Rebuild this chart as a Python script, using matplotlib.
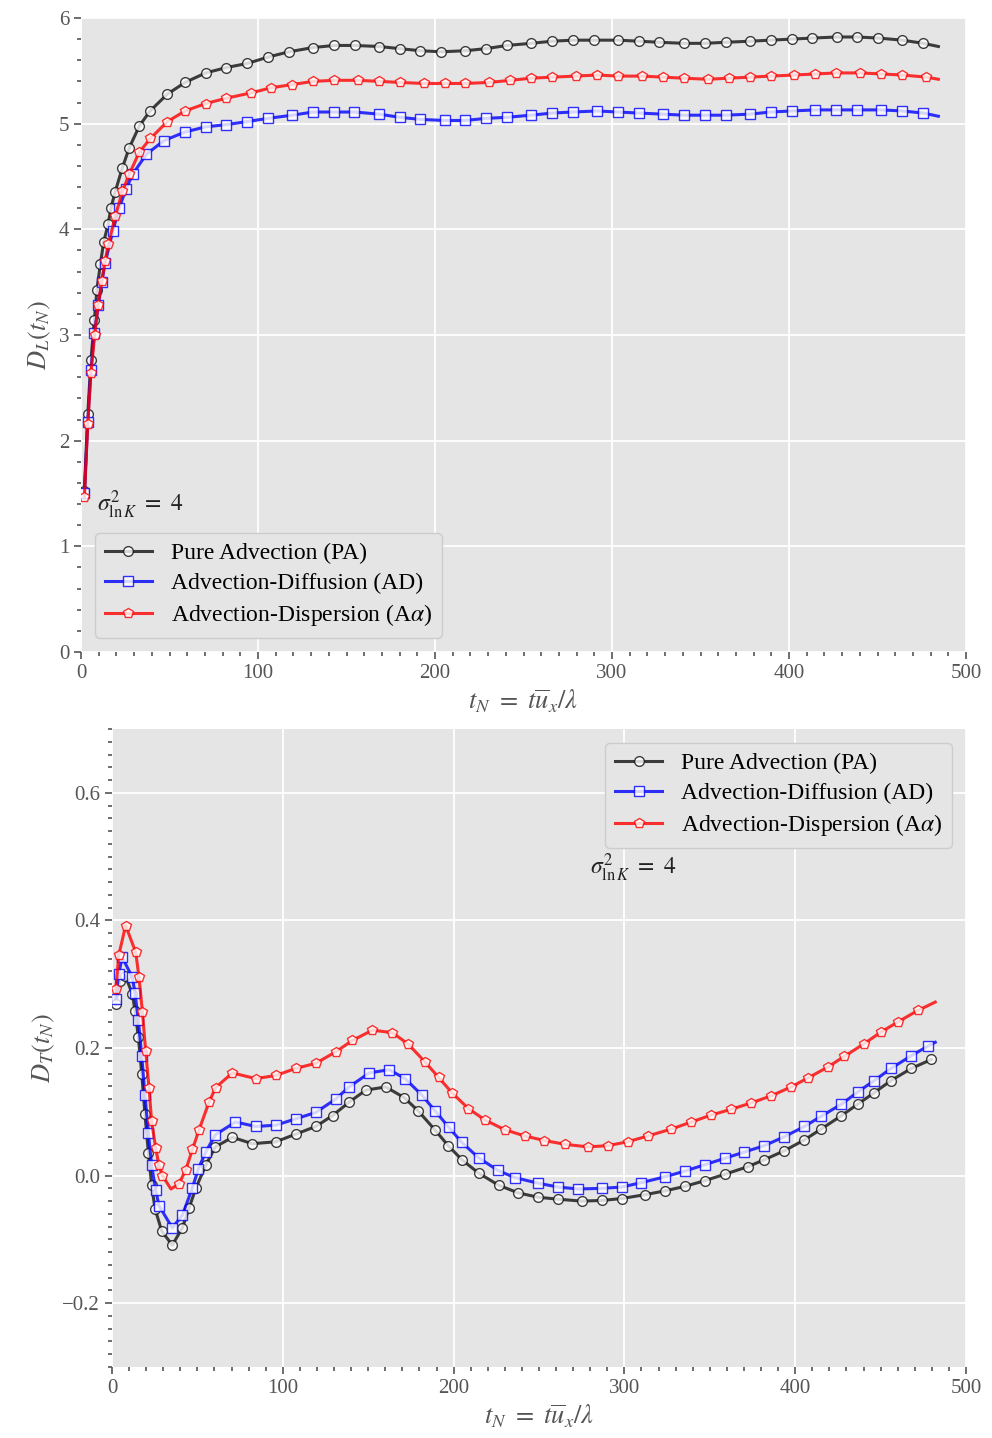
"""
Longitudinal and transverse dispersion D_L(t_N), D_T(t_N) for sigma^2_lnK = 4
"""

import matplotlib
matplotlib.use("Agg")
import matplotlib.pyplot as plt
from matplotlib.ticker import AutoMinorLocator, MultipleLocator

# ---------------- data ----------------
# top panel: D_L
t_L_pa = [1.9, 3.8, 5.6, 7.5, 9.0, 10.9, 12.8, 15.3, 16.9, 19.2, 23.3, 27.2, 33.0, 39.0,
          48.8, 58.8, 70.4, 81.9, 94.0, 105.6, 117.5, 131.0, 143.0, 154.5, 168.4, 180.0,
          191.7, 203.6, 217.1, 228.8, 240.7, 254.2, 266.1, 277.8, 289.6, 303.4, 315.3,
          326.7, 340.5, 352.4, 364.2, 377.8, 389.7, 401.5, 413.2, 426.9, 438.6, 450.5,
          464.0, 475.9, 484.4]
DL_pa = [1.52, 2.25, 2.76, 3.14, 3.43, 3.67, 3.88, 4.05, 4.20, 4.35, 4.58, 4.77, 4.98, 5.12,
         5.28, 5.39, 5.48, 5.53, 5.57, 5.63, 5.68, 5.72, 5.74, 5.74, 5.73, 5.71,
         5.69, 5.68, 5.69, 5.71, 5.74, 5.76, 5.78, 5.79, 5.79, 5.79, 5.78,
         5.77, 5.76, 5.76, 5.77, 5.78, 5.79, 5.80, 5.81, 5.82, 5.82, 5.81,
         5.79, 5.76, 5.73]

t_L_ad = [1.9, 3.8, 5.6, 7.5, 9.8, 11.7, 13.6, 17.9, 21.5, 25.4, 29.1, 36.9, 46.9, 58.6,
          70.4, 81.9, 94.0, 105.6, 119.4, 131.0, 143.0, 154.4, 168.4, 180.0, 191.7, 205.5,
          217.0, 228.8, 240.7, 254.2, 266.1, 277.8, 291.5, 303.4, 315.3, 328.6, 340.5,
          352.4, 364.2, 377.8, 389.7, 401.5, 414.9, 426.8, 438.6, 452.2, 464.0, 475.9, 484.4]
DL_ad = [1.50, 2.18, 2.67, 3.02, 3.28, 3.50, 3.68, 3.98, 4.20, 4.38, 4.52, 4.71, 4.84, 4.92,
         4.97, 4.99, 5.02, 5.05, 5.08, 5.11, 5.11, 5.11, 5.09, 5.06, 5.04, 5.03,
         5.03, 5.05, 5.06, 5.08, 5.10, 5.11, 5.12, 5.11, 5.10, 5.09, 5.08,
         5.08, 5.08, 5.09, 5.11, 5.12, 5.13, 5.13, 5.13, 5.13, 5.12, 5.10, 5.07]

t_L_aa = [1.9, 3.8, 5.6, 7.7, 9.6, 11.7, 13.6, 15.5, 19.4, 23.4, 27.2, 32.9, 39.2, 48.8,
          58.8, 70.4, 81.9, 95.8, 107.5, 119.4, 131.0, 143.0, 156.5, 168.4, 180.0, 193.6,
          205.5, 217.0, 230.7, 242.5, 254.2, 266.1, 279.7, 291.5, 303.4, 317.0, 328.6,
          340.5, 354.2, 365.9, 377.8, 389.7, 403.0, 414.9, 426.8, 440.3, 452.2, 464.0,
          477.6, 484.4]
DL_aa = [1.47, 2.16, 2.64, 3.00, 3.28, 3.51, 3.70, 3.86, 4.13, 4.36, 4.52, 4.73, 4.86, 5.02,
         5.12, 5.19, 5.24, 5.29, 5.34, 5.37, 5.40, 5.41, 5.41, 5.40, 5.39, 5.38,
         5.38, 5.38, 5.39, 5.41, 5.43, 5.44, 5.45, 5.46, 5.45, 5.45, 5.44,
         5.43, 5.42, 5.43, 5.44, 5.45, 5.46, 5.47, 5.48, 5.48, 5.47, 5.46,
         5.44, 5.42]

# bottom panel: D_T
t_T_pa = [2.2, 4.5, 7.8, 11.9, 13.5, 15.4, 17.4, 19.3, 21.3, 23.2, 25.2, 29.1, 35.3, 41.2,
          45.1, 49.2, 55.0, 60.5, 70.5, 82.2, 95.9, 107.6, 119.3, 129.1, 138.8, 148.6,
          160.3, 171.2, 179.4, 189.3, 196.8, 204.8, 214.6, 226.3, 237.7, 249.6, 261.3,
          274.9, 286.6, 298.3, 311.9, 323.6, 335.3, 347.0, 358.7, 372.3, 382.0, 393.7,
          405.4, 415.2, 427.1, 436.6, 446.3, 456.1, 468.0, 479.7]
DT_pa = [0.269, 0.305, 0.313, 0.285, 0.258, 0.218, 0.160, 0.096, 0.036, -0.015, -0.052,
         -0.087, -0.109, -0.082, -0.051, -0.019, 0.017, 0.045, 0.060, 0.050, 0.053, 0.065,
         0.077, 0.094, 0.115, 0.134, 0.139, 0.122, 0.101, 0.071, 0.047, 0.025, 0.004,
         -0.015, -0.027, -0.034, -0.037, -0.040, -0.039, -0.036, -0.030, -0.024, -0.017,
         -0.008, 0.002, 0.014, 0.025, 0.039, 0.056, 0.073, 0.094, 0.112, 0.130, 0.149,
         0.168, 0.182]

t_T_ad = [2.2, 3.9, 6.0, 11.9, 13.5, 15.4, 17.4, 19.3, 21.3, 23.2, 25.6, 27.5, 35.3, 41.2,
          47.1, 50.6, 54.9, 60.5, 72.3, 84.2, 95.9, 107.6, 119.3, 131.0, 138.8, 150.6,
          162.3, 171.6, 181.5, 189.3, 197.1, 204.8, 214.6, 226.0, 235.7, 249.6, 261.3,
          273.0, 286.6, 298.3, 310.0, 323.6, 335.3, 347.0, 358.7, 370.3, 382.0, 393.7,
          405.4, 415.2, 427.1, 436.6, 446.3, 456.1, 468.0, 477.7, 482.0]
DT_ad = [0.277, 0.316, 0.342, 0.311, 0.286, 0.244, 0.188, 0.126, 0.067, 0.016, -0.023,
         -0.047, -0.082, -0.062, -0.019, 0.011, 0.037, 0.064, 0.084, 0.077, 0.079, 0.089,
         0.099, 0.120, 0.139, 0.161, 0.166, 0.152, 0.126, 0.101, 0.076, 0.052, 0.028,
         0.008, -0.003, -0.012, -0.018, -0.021, -0.020, -0.018, -0.011, -0.002, 0.007,
         0.017, 0.027, 0.037, 0.047, 0.061, 0.077, 0.093, 0.112, 0.131, 0.149, 0.168,
         0.188, 0.203, 0.209]

t_T_aa = [2.2, 4.0, 8.0, 13.9, 15.8, 17.8, 19.7, 21.7, 23.2, 25.6, 27.5, 29.5, 34.5, 39.2,
          43.2, 47.1, 51.0, 56.8, 60.7, 70.5, 84.2, 95.9, 107.6, 119.3, 131.0, 140.8,
          152.5, 164.2, 173.5, 183.3, 191.2, 199.0, 208.7, 218.5, 229.9, 241.8, 253.2,
          265.2, 278.8, 290.5, 301.9, 313.6, 327.5, 339.2, 350.9, 362.6, 374.3, 385.9,
          397.6, 407.4, 419.0, 428.8, 440.5, 450.2, 460.2, 471.9, 482.0]
DT_aa = [0.292, 0.346, 0.392, 0.350, 0.311, 0.257, 0.196, 0.137, 0.085, 0.043, 0.016,
         0.000, -0.021, -0.013, 0.009, 0.041, 0.072, 0.115, 0.138, 0.161, 0.152, 0.157,
         0.168, 0.176, 0.194, 0.212, 0.228, 0.224, 0.206, 0.178, 0.154, 0.130, 0.105,
         0.087, 0.072, 0.062, 0.055, 0.049, 0.045, 0.047, 0.053, 0.062, 0.073, 0.084,
         0.095, 0.104, 0.114, 0.125, 0.139, 0.153, 0.170, 0.187, 0.207, 0.225, 0.241,
         0.259, 0.272]

labels = ["Pure Advection (PA)", "Advection-Diffusion (AD)", r"Advection-Dispersion (A$\alpha$)"]
colors = ["#111111", "#0000ff", "#ff0000"]
markers = ["o", "s", "p"]
sigma_text = r"$\sigma^2_{\ln K}\ =\ 4$"
xlab = r"$t_N\ =\ t\overline{u}_x/\lambda$"


def no_marker(n, skip):
    return [i for i in range(n) if i not in skip]


def style_axes(ax):
    ax.set_facecolor("#E5E5E5")
    for s in ax.spines.values():
        s.set_visible(False)
    ax.grid(True, which="major", color="white", linewidth=1.3)
    ax.set_axisbelow(True)
    ax.tick_params(which="both", direction="out", colors="#555555", labelsize=15,
                   top=False, right=False)
    ax.tick_params(which="major", length=5, width=1.2)
    ax.tick_params(which="minor", length=3, width=1.2)
    ax.xaxis.set_minor_locator(AutoMinorLocator(10))


def draw(ax, series):
    for (t, v, skip), lab, c, m in zip(series, labels, colors, markers):
        ax.plot(t, v, color=c, alpha=0.8, lw=2.2, marker=m, ms=7, mfc="white",
                mec=c, mew=1.0, markevery=no_marker(len(t), skip), label=lab)


plt.rcParams["font.family"] = ["Liberation Serif", "DejaVu Serif"]
plt.rcParams["mathtext.fontset"] = "stix"

fig = plt.figure(figsize=(9.92, 14.38), dpi=100)

# ---- top: D_L ----
ax1 = fig.add_axes([0.0817, 0.5466, 0.8921, 0.4409])
style_axes(ax1)
draw(ax1, [(t_L_pa, DL_pa, [len(t_L_pa) - 1]),
           (t_L_ad, DL_ad, [len(t_L_ad) - 1]),
           (t_L_aa, DL_aa, [len(t_L_aa) - 1])])
ax1.set_xlim(0, 500)
ax1.set_ylim(0, 6)
ax1.yaxis.set_major_locator(MultipleLocator(1))
ax1.yaxis.set_minor_locator(AutoMinorLocator(5))
ax1.set_xlabel(xlab, fontsize=19, color="#555555", labelpad=4)
ax1.set_ylabel(r"$D_L(t_N)$", fontsize=19, color="#555555")
ax1.text(9, 1.39, sigma_text, fontsize=17, color="#222222", va="center")
ax1.legend(loc="lower left", fontsize=17, facecolor="#E5E5E5", edgecolor="#CCCCCC",
           framealpha=1.0, borderaxespad=0.6, handlelength=2.0, labelspacing=0.35)

# ---- bottom: D_T ----
ax2 = fig.add_axes([0.1129, 0.0494, 0.8609, 0.4436])
style_axes(ax2)
draw(ax2, [(t_T_pa, DT_pa, []),
           (t_T_ad, DT_ad, [len(t_T_ad) - 1]),
           (t_T_aa, DT_aa, [12, len(t_T_aa) - 1])])
ax2.set_xlim(0, 500)
ax2.set_ylim(-0.3, 0.7)
ax2.yaxis.set_major_locator(MultipleLocator(0.2))
ax2.yaxis.set_minor_locator(AutoMinorLocator(10))
ax2.set_xlabel(xlab, fontsize=19, color="#555555", labelpad=4)
ax2.set_ylabel(r"$D_T(t_N)$", fontsize=19, color="#555555")
ax2.text(280, 0.482, sigma_text, fontsize=17, color="#222222", va="center")
ax2.legend(loc="upper right", fontsize=17, facecolor="#E5E5E5", edgecolor="#CCCCCC",
           framealpha=1.0, borderaxespad=0.6, handlelength=2.0, labelspacing=0.35)

fig.savefig("out.png", dpi=100)
